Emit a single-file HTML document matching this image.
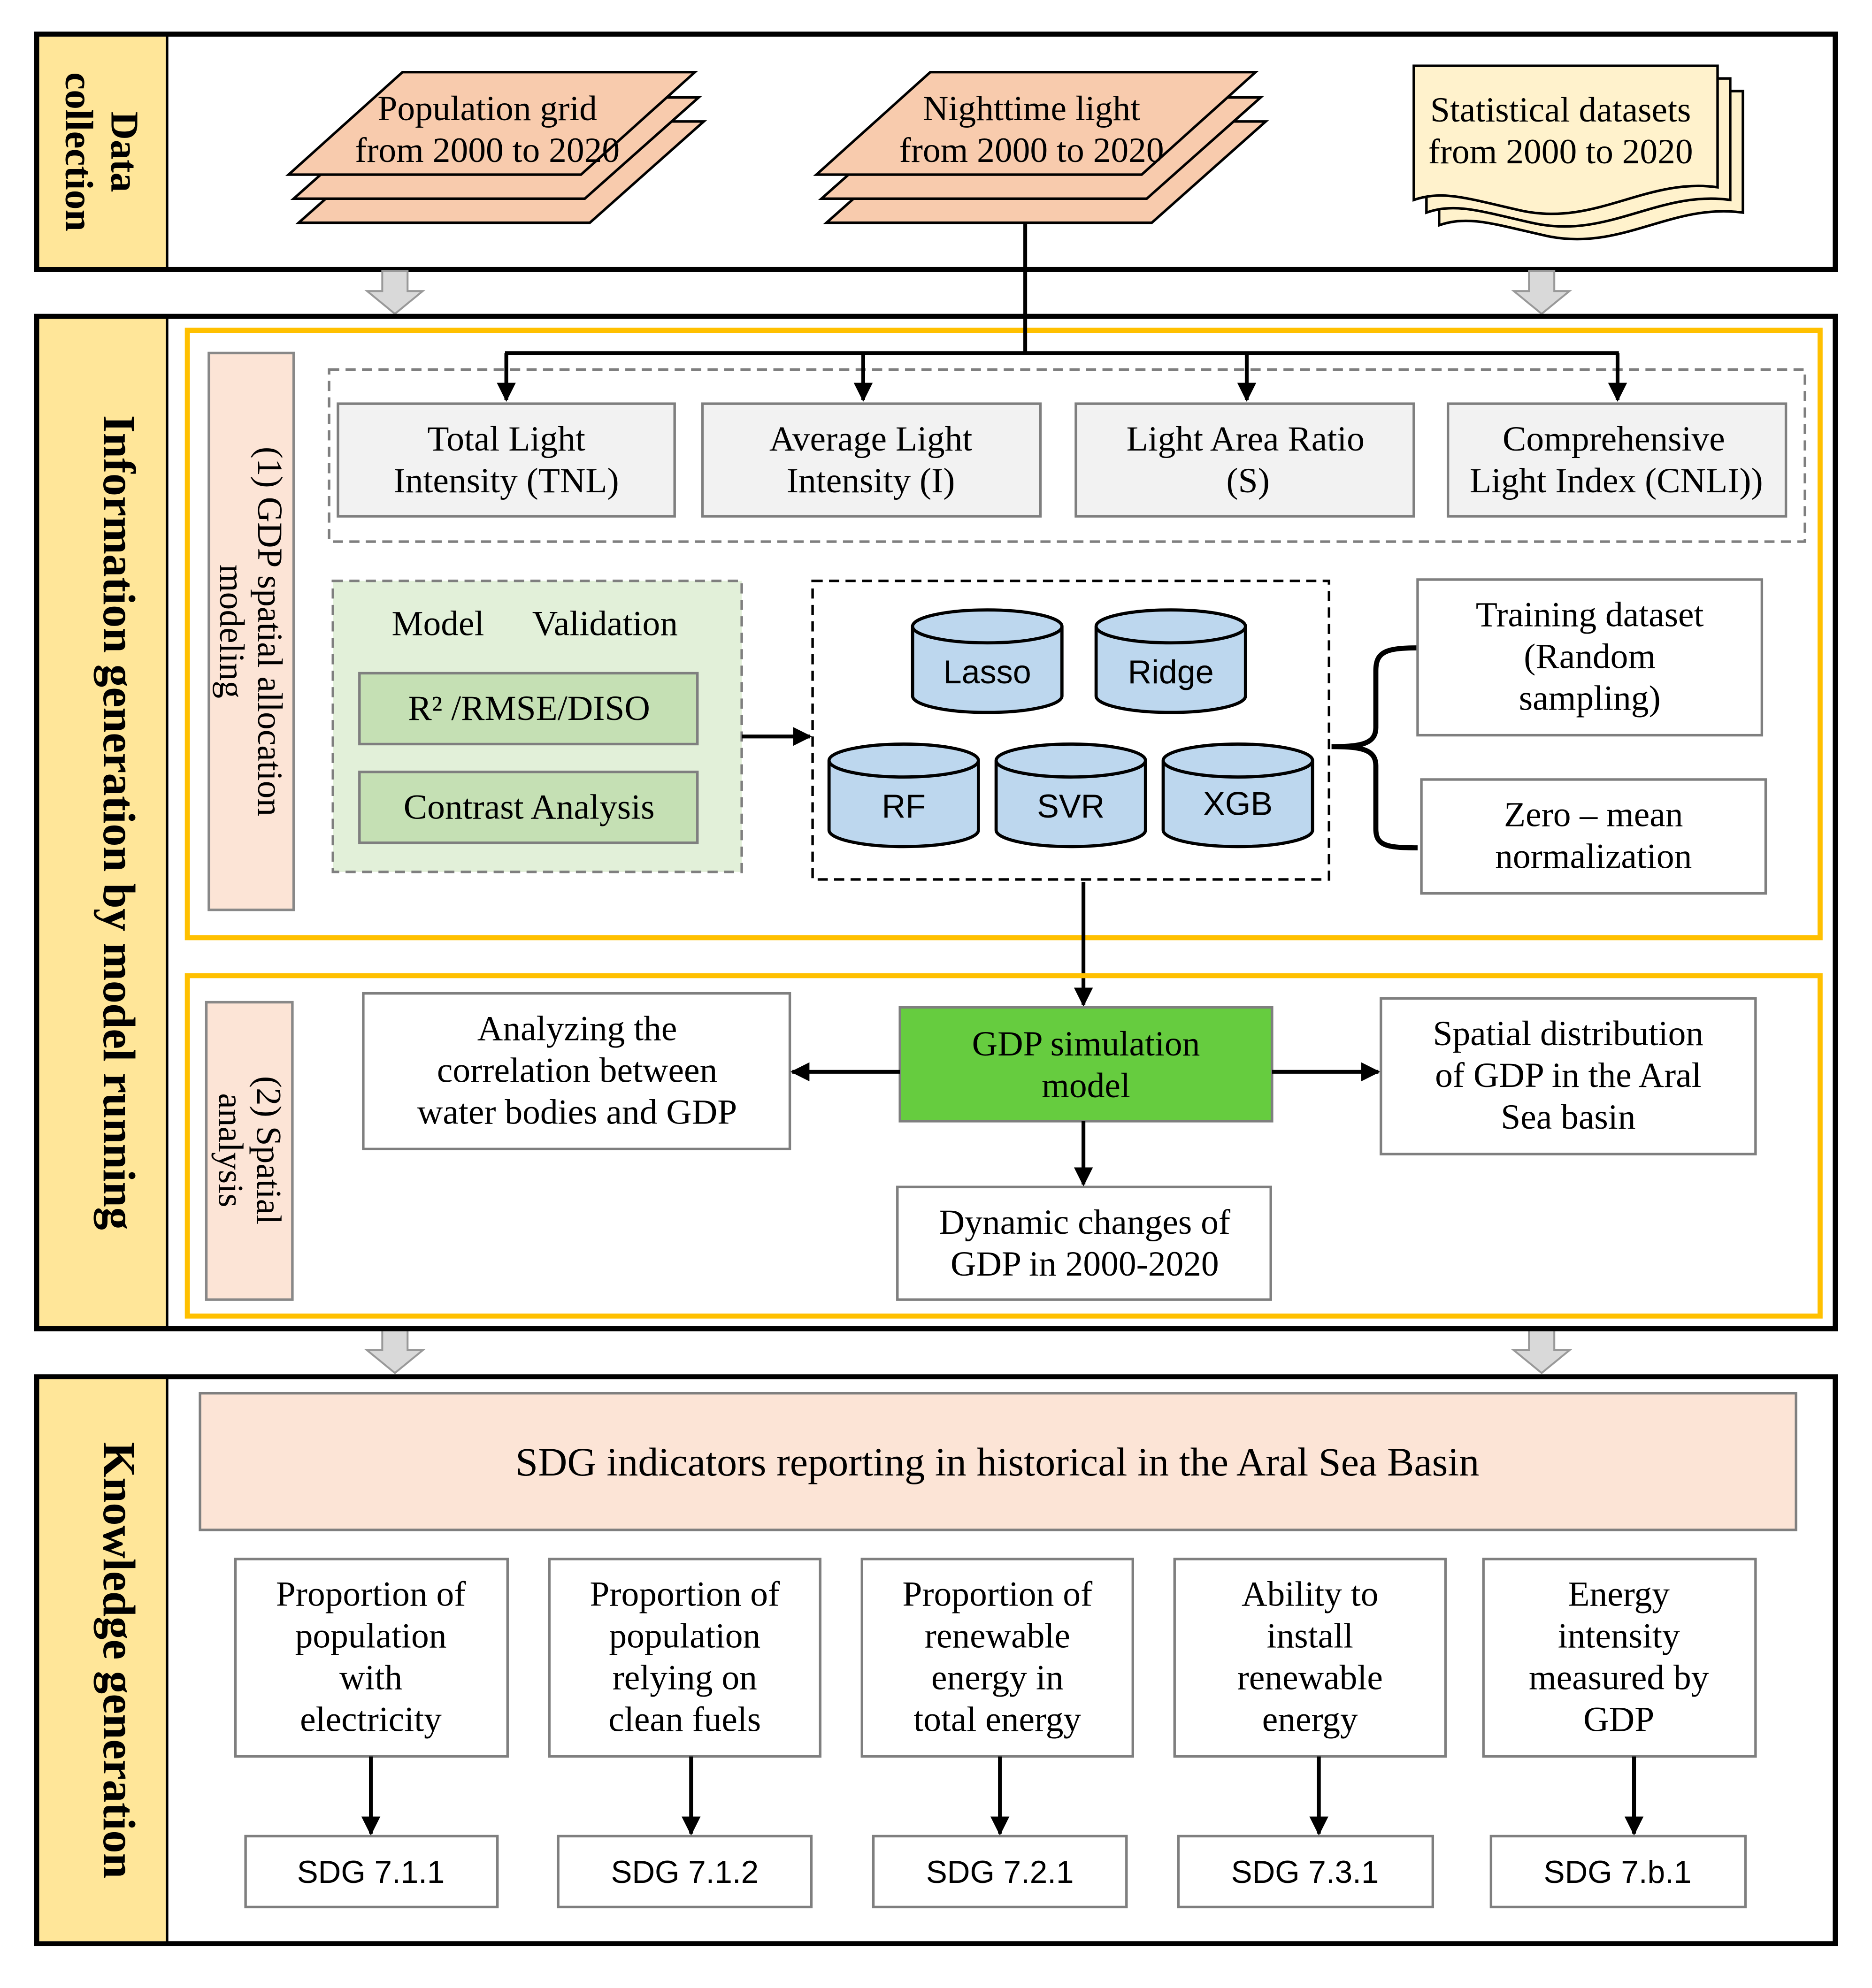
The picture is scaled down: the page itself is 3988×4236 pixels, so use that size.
<!DOCTYPE html>
<html><head><meta charset="utf-8">
<style>
html,body{margin:0;padding:0;background:#fff;}
svg{display:block;}
text{font-family:"Liberation Serif",serif;fill:#000;}
.s{font-family:"Liberation Sans",sans-serif;}
</style></head>
<body>
<svg width="3988" height="4236" viewBox="0 0 1479 1571" xmlns="http://www.w3.org/2000/svg">
<defs>
<marker id="ah" viewBox="0 0 10 10" refX="9" refY="5" markerWidth="5" markerHeight="5" orient="auto"><path d="M0,0 L10,5 L0,10 z" fill="#000"/></marker>
</defs>
<rect x="0" y="0" width="1479" height="1571" fill="#fff"/>

<rect x="29" y="27" width="1421" height="186" fill="#fff" stroke="#000" stroke-width="4"/>
<rect x="31" y="29" width="101" height="182" fill="#FFE699"/>
<line x1="132" y1="27" x2="132" y2="213" stroke="#000" stroke-width="2"/>
<text transform="translate(80,120) rotate(90)" text-anchor="middle" font-size="31" font-weight="bold"><tspan x="0" dy="-8">Data</tspan><tspan x="0" dy="36">collection</tspan></text>

<g fill="#F8CBAD" stroke="#000" stroke-width="2">
<polygon points="236,176 326,96 556,96 466,176"/>
<polygon points="232,157 322,77 552,77 462,157"/>
<polygon points="228,138 318,57 549,57 459,138"/>
<polygon points="653,176 743,96 1000,96 910,176"/>
<polygon points="649,157 739,77 996,77 906,157"/>
<polygon points="645,138 735,57 992,57 902,138"/>
</g>
<g font-size="28" text-anchor="middle">
<text x="385" y="95">Population grid</text>
<text x="385" y="128">from 2000 to 2020</text>
<text x="815" y="95">Nighttime light</text>
<text x="815" y="128">from 2000 to 2020</text>
</g>

<g fill="#FFF2CC" stroke="#000" stroke-width="2">
<path d="M1137,72 H1377 V168 C1320,160 1280,200 1220,186 C1180,177 1160,170 1137,178 Z"/>
<path d="M1127,62 H1367 V158 C1310,150 1270,190 1210,176 C1170,167 1150,160 1127,168 Z"/>
<path d="M1117,52 H1357 V148 C1300,140 1260,180 1200,166 C1160,157 1140,150 1117,158 Z"/>
</g>
<text x="1233" y="96" text-anchor="middle" font-size="28">Statistical datasets</text>
<text x="1233" y="129" text-anchor="middle" font-size="28">from 2000 to 2020</text>

<g fill="#D9D9D9" stroke="#999" stroke-width="1.5">
<polygon points="302,214 322,214 322,230 334,230 312,248 290,230 302,230"/>
<polygon points="1208,214 1228,214 1228,230 1240,230 1218,248 1196,230 1208,230"/>
<polygon points="302,1051 322,1051 322,1067 334,1067 312,1085 290,1067 302,1067"/>
<polygon points="1208,1051 1228,1051 1228,1067 1240,1067 1218,1085 1196,1067 1208,1067"/>
</g>

<rect x="29" y="250" width="1421" height="800" fill="#fff" stroke="#000" stroke-width="4"/>
<rect x="31" y="252" width="101" height="796" fill="#FFE699"/>
<line x1="132" y1="250" x2="132" y2="1050" stroke="#000" stroke-width="2"/>
<text transform="translate(82,650) rotate(90)" text-anchor="middle" font-size="36" font-weight="bold">Information generation by model running</text>

<rect x="148" y="261" width="1290" height="480" fill="none" stroke="#FFC000" stroke-width="4"/>
<rect x="165" y="279" width="67" height="440" fill="#FCE4D6" stroke="#888" stroke-width="2"/>
<text transform="translate(198,499) rotate(90)" text-anchor="middle" font-size="28"><tspan x="0" dy="-6">(1) GDP spatial allocation</tspan><tspan x="0" dy="30">modeling</tspan></text>

<rect x="260" y="292" width="1166" height="136" fill="none" stroke="#7f7f7f" stroke-width="2" stroke-dasharray="8,5"/>
<g stroke="#000" stroke-width="3" fill="none">
<line x1="810" y1="177" x2="810" y2="278"/>
<line x1="399" y1="279" x2="1279" y2="279"/>
<line x1="400" y1="279" x2="400" y2="316" marker-end="url(#ah)"/>
<line x1="682" y1="279" x2="682" y2="316" marker-end="url(#ah)"/>
<line x1="985" y1="279" x2="985" y2="316" marker-end="url(#ah)"/>
<line x1="1278" y1="279" x2="1278" y2="316" marker-end="url(#ah)"/>
</g>
<g fill="#F2F2F2" stroke="#7f7f7f" stroke-width="2">
<rect x="267" y="319" width="266" height="89"/>
<rect x="555" y="319" width="267" height="89"/>
<rect x="850" y="319" width="267" height="89"/>
<rect x="1144" y="319" width="267" height="89"/>
</g>
<g font-size="28" text-anchor="middle">
<text x="400" y="356">Total Light</text><text x="400" y="389">Intensity (TNL)</text>
<text x="688" y="356">Average Light</text><text x="688" y="389">Intensity (I)</text>
<text x="984" y="356">Light Area Ratio</text><text x="986" y="389">(S)</text>
<text x="1275" y="356">Comprehensive</text><text x="1277" y="389">Light Index (CNLI))</text>
</g>

<rect x="263" y="459" width="323" height="230" fill="#E2F0D9" stroke="#7f7f7f" stroke-width="2" stroke-dasharray="8,5"/>
<text x="346" y="502" text-anchor="middle" font-size="28">Model</text>
<text x="478" y="502" text-anchor="middle" font-size="28">Validation</text>
<rect x="284" y="532" width="267" height="56" fill="#C5E0B4" stroke="#7f7f7f" stroke-width="2"/>
<rect x="284" y="610" width="267" height="56" fill="#C5E0B4" stroke="#7f7f7f" stroke-width="2"/>
<text x="418" y="569" text-anchor="middle" font-size="28">R² /RMSE/DISO</text>
<text x="418" y="647" text-anchor="middle" font-size="28">Contrast Analysis</text>
<line x1="586" y1="582" x2="640" y2="582" stroke="#000" stroke-width="3" marker-end="url(#ah)"/>

<rect x="642" y="459" width="408" height="236" fill="none" stroke="#000" stroke-width="2" stroke-dasharray="8,5"/>
<g fill="#BDD7EE" stroke="#000" stroke-width="2.5">
<path d="M721,495 V550 A59,13 0 0 0 839,550 V495 A59,13 0 0 0 721,495 A59,13 0 0 0 839,495"/>
<path d="M866,495 V550 A59,13 0 0 0 984,550 V495 A59,13 0 0 0 866,495 A59,13 0 0 0 984,495"/>
<path d="M655,601 V656 A59,13 0 0 0 773,656 V601 A59,13 0 0 0 655,601 A59,13 0 0 0 773,601"/>
<path d="M787,601 V656 A59,13 0 0 0 905,656 V601 A59,13 0 0 0 787,601 A59,13 0 0 0 905,601"/>
<path d="M919,601 V656 A59,13 0 0 0 1037,656 V601 A59,13 0 0 0 919,601 A59,13 0 0 0 1037,601"/>
</g>
<g font-size="26" text-anchor="middle">
<text class="s" x="780" y="540">Lasso</text>
<text class="s" x="925" y="540">Ridge</text>
<text class="s" x="714" y="646">RF</text>
<text class="s" x="846" y="646">SVR</text>
<text class="s" x="978" y="644">XGB</text>
</g>
<path d="M1120,512 C1095,512 1087,515 1087,530 V575 C1087,588 1075,590 1052,590 C1075,590 1087,592 1087,605 V655 C1087,668 1095,670 1120,670" fill="none" stroke="#000" stroke-width="4"/>
<rect x="1120" y="458" width="272" height="123" fill="#fff" stroke="#7f7f7f" stroke-width="2"/>
<rect x="1123" y="616" width="272" height="90" fill="#fff" stroke="#7f7f7f" stroke-width="2"/>
<g font-size="28" text-anchor="middle">
<text x="1256" y="495">Training dataset</text><text x="1256" y="528">(Random</text><text x="1256" y="561">sampling)</text>
<text x="1259" y="653">Zero – mean</text><text x="1259" y="686">normalization</text>
</g>
<line x1="856" y1="697" x2="856" y2="794" stroke="#000" stroke-width="3" marker-end="url(#ah)"/>

<rect x="148" y="771" width="1290" height="269" fill="none" stroke="#FFC000" stroke-width="4"/>
<rect x="163" y="792" width="68" height="235" fill="#FCE4D6" stroke="#888" stroke-width="2"/>
<text transform="translate(197,909) rotate(90)" text-anchor="middle" font-size="28"><tspan x="0" dy="-6">(2) Spatial</tspan><tspan x="0" dy="30">analysis</tspan></text>

<rect x="287" y="785" width="337" height="123" fill="#fff" stroke="#7f7f7f" stroke-width="2"/>
<rect x="711" y="796" width="294" height="90" fill="#66CC3F" stroke="#7f7f7f" stroke-width="2"/>
<rect x="1091" y="789" width="296" height="123" fill="#fff" stroke="#7f7f7f" stroke-width="2"/>
<rect x="709" y="938" width="295" height="89" fill="#fff" stroke="#7f7f7f" stroke-width="2"/>
<g font-size="28" text-anchor="middle">
<text x="456" y="822">Analyzing the</text><text x="456" y="855">correlation between</text><text x="456" y="888">water bodies and GDP</text>
<text x="858" y="834">GDP simulation</text><text x="858" y="867">model</text>
<text x="1239" y="826">Spatial distribution</text><text x="1239" y="859">of GDP in the Aral</text><text x="1239" y="892">Sea basin</text>
<text x="857" y="975">Dynamic changes of</text><text x="857" y="1008">GDP in 2000-2020</text>
</g>
<g stroke="#000" stroke-width="3">
<line x1="711" y1="847" x2="626" y2="847" marker-end="url(#ah)"/>
<line x1="1005" y1="847" x2="1089" y2="847" marker-end="url(#ah)"/>
<line x1="856" y1="886" x2="856" y2="936" marker-end="url(#ah)"/>
</g>

<rect x="29" y="1088" width="1421" height="448" fill="#fff" stroke="#000" stroke-width="4"/>
<rect x="31" y="1090" width="101" height="444" fill="#FFE699"/>
<line x1="132" y1="1088" x2="132" y2="1536" stroke="#000" stroke-width="2"/>
<text transform="translate(82,1312) rotate(90)" text-anchor="middle" font-size="36" font-weight="bold">Knowledge generation</text>

<rect x="158" y="1101" width="1261" height="108" fill="#FCE4D6" stroke="#7f7f7f" stroke-width="2"/>
<text x="788" y="1166" text-anchor="middle" font-size="32">SDG indicators reporting in historical in the Aral Sea Basin</text>

<g fill="#fff" stroke="#7f7f7f" stroke-width="2">
<rect x="186" y="1232" width="215" height="156"/>
<rect x="434" y="1232" width="214" height="156"/>
<rect x="681" y="1232" width="214" height="156"/>
<rect x="928" y="1232" width="214" height="156"/>
<rect x="1172" y="1232" width="215" height="156"/>
<rect x="194" y="1451" width="199" height="56"/>
<rect x="441" y="1451" width="200" height="56"/>
<rect x="690" y="1451" width="200" height="56"/>
<rect x="931" y="1451" width="201" height="56"/>
<rect x="1178" y="1451" width="201" height="56"/>
</g>
<g font-size="28" text-anchor="middle">
<text x="293" y="1269">Proportion of</text><text x="293" y="1302">population</text><text x="293" y="1335">with</text><text x="293" y="1368">electricity</text>
<text x="541" y="1269">Proportion of</text><text x="541" y="1302">population</text><text x="541" y="1335">relying on</text><text x="541" y="1368">clean fuels</text>
<text x="788" y="1269">Proportion of</text><text x="788" y="1302">renewable</text><text x="788" y="1335">energy in</text><text x="788" y="1368">total energy</text>
<text x="1035" y="1269">Ability to</text><text x="1035" y="1302">install</text><text x="1035" y="1335">renewable</text><text x="1035" y="1368">energy</text>
<text x="1279" y="1269">Energy</text><text x="1279" y="1302">intensity</text><text x="1279" y="1335">measured by</text><text x="1279" y="1368">GDP</text>
</g>
<g font-size="25" text-anchor="middle">
<text class="s" x="293" y="1488">SDG 7.1.1</text>
<text class="s" x="541" y="1488">SDG 7.1.2</text>
<text class="s" x="790" y="1488">SDG 7.2.1</text>
<text class="s" x="1031" y="1488">SDG 7.3.1</text>
<text class="s" x="1278" y="1488">SDG 7.b.1</text>
</g>
<g stroke="#000" stroke-width="3">
<line x1="293" y1="1388" x2="293" y2="1449" marker-end="url(#ah)"/>
<line x1="546" y1="1388" x2="546" y2="1449" marker-end="url(#ah)"/>
<line x1="790" y1="1388" x2="790" y2="1449" marker-end="url(#ah)"/>
<line x1="1042" y1="1388" x2="1042" y2="1449" marker-end="url(#ah)"/>
<line x1="1291" y1="1388" x2="1291" y2="1449" marker-end="url(#ah)"/>
</g>
</svg>
</body></html>
